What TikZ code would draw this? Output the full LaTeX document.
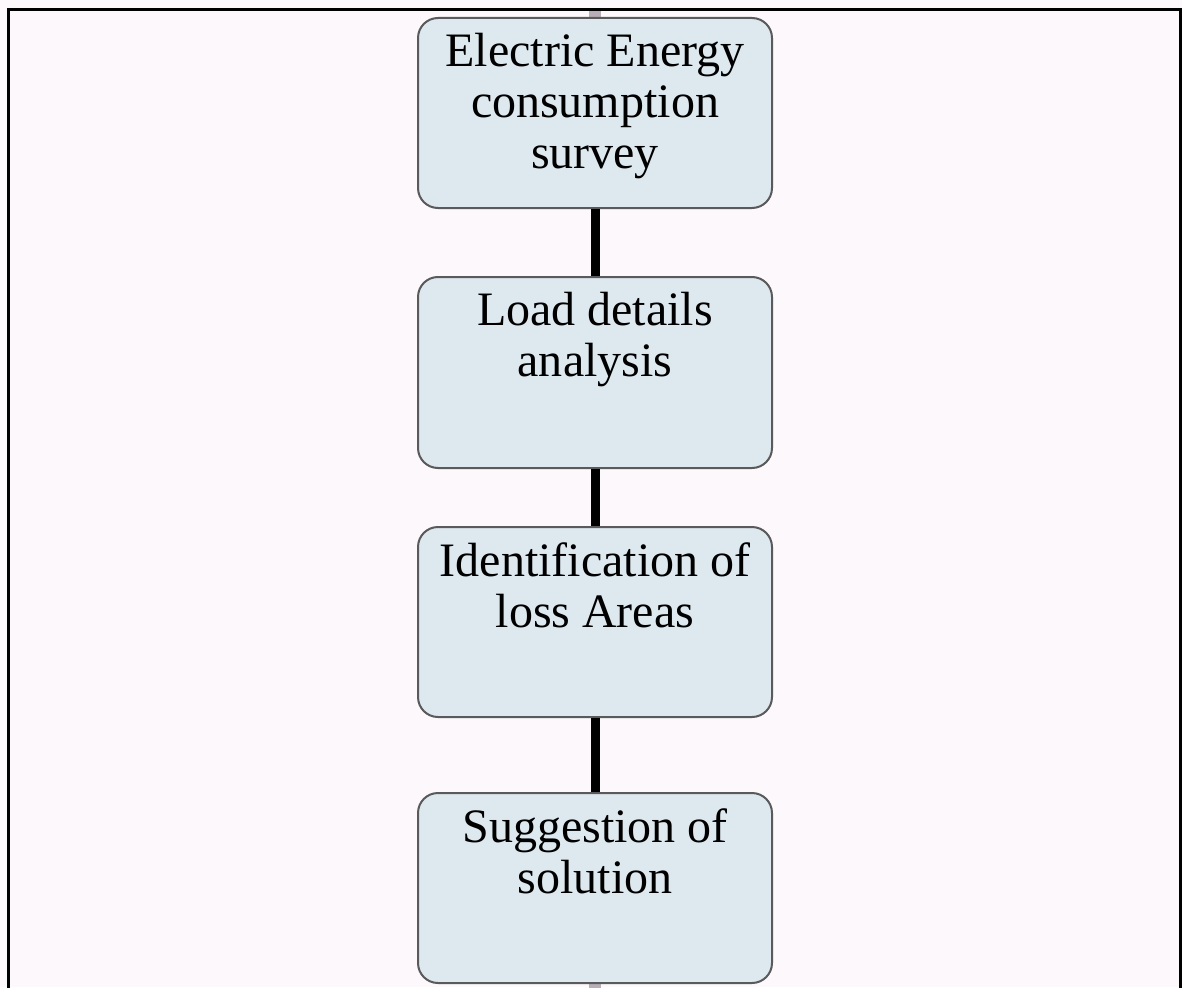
\documentclass[tikz,border=0pt]{standalone}
\usepackage{fontspec}
\setmainfont{Liberation Serif}
\definecolor{boxfill}{HTML}{DDE8EF}
\definecolor{boxline}{HTML}{5A5A5A}
\definecolor{pagebg}{HTML}{FCF8FC}
\definecolor{stubgrey}{HTML}{B8AEB8}
\tikzset{
  stage/.style={draw=boxline, line width=2pt, fill=boxfill, rounded corners=20pt, minimum width=354pt, minimum height=190pt, inner sep=0pt},
  stagetext/.style={anchor=north, align=center, inner sep=0pt, font=\fontsize{48}{51}\selectfont},
  link/.style={line width=9pt, black},
  stub/.style={line width=12pt, stubgrey}
}
\begin{document}
\begin{tikzpicture}[x=1pt,y=-1pt]
\useasboundingbox (0,0) rectangle (1182,987);
\fill [pagebg] (0,0) rectangle (1182,987);
\coordinate (topstub) at (595,10);
\coordinate (bottomstub) at (595,995);
\draw [stub] (topstub) -- (595,20);
\draw [stub] (595,980) -- (bottomstub);
\draw [line width=3pt] (8,995) -- (8,10) -- (1180,10) -- (1180,995);
\node (survey) at (595,113) [stage] {};
\node (surveytext) at ([yshift=-16pt]survey.north) [stagetext] {Electric Energy\\consumption\\survey};
\node (load) at (595,372.5) [stage, minimum height=191pt] {};
\node (loadtext) at ([yshift=-16pt]load.north) [stagetext] {Load details\\analysis};
\node (loss) at (595,622) [stage] {};
\node (losstext) at ([yshift=-16pt]loss.north) [stagetext] {Identification of\\loss Areas};
\node (solution) at (595,888) [stage] {};
\node (solutiontext) at ([yshift=-16pt]solution.north) [stagetext] {Suggestion of\\solution};
\draw [link] (survey.south) -- (load.north);
\draw [link] (load.south) -- (loss.north);
\draw [link] (loss.south) -- (solution.north);
\end{tikzpicture}
\end{document}
